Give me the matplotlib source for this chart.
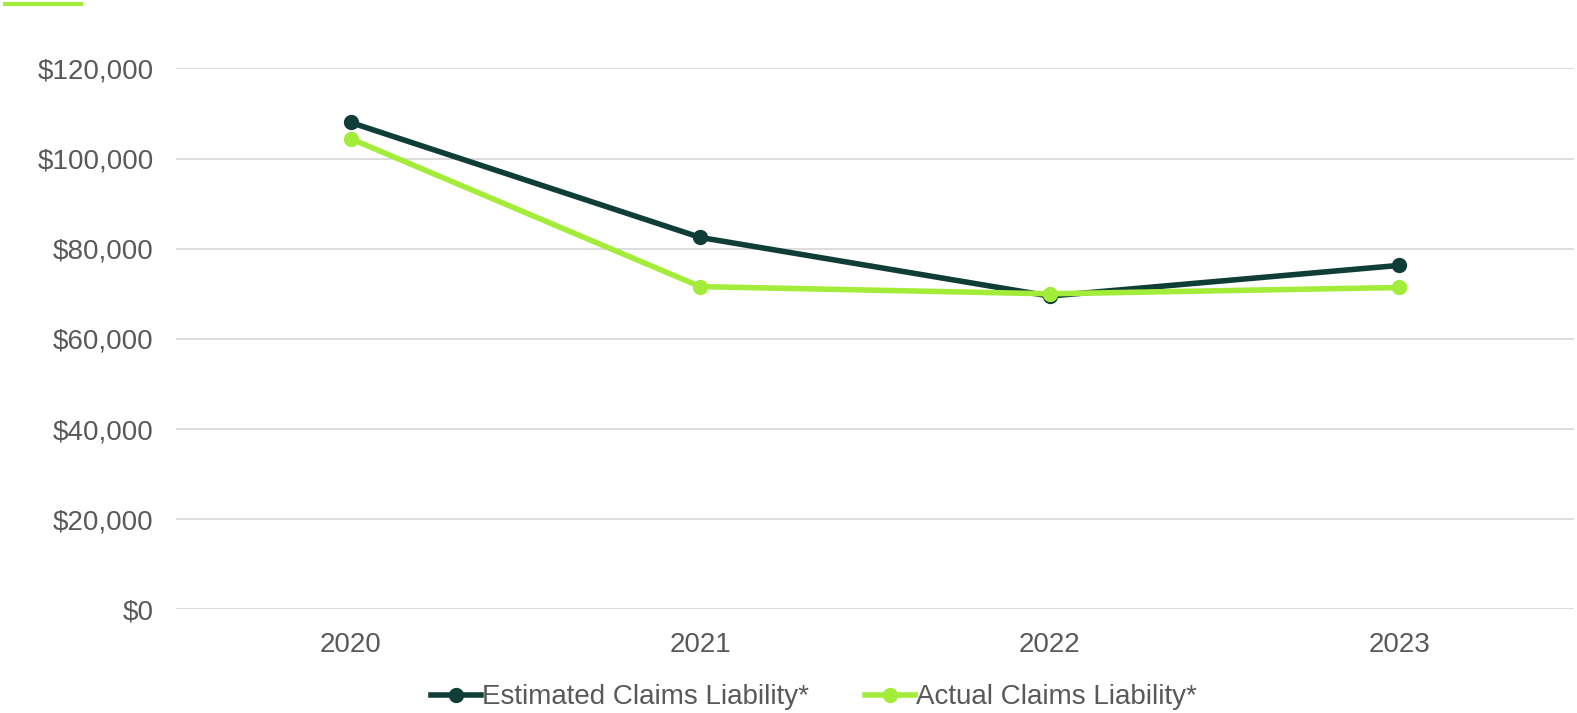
import matplotlib.pyplot as plt
from matplotlib.ticker import FuncFormatter

plt.rcParams['font.family'] = ['Liberation Sans', 'DejaVu Sans']

years = ['2020', '2021', '2022', '2023']
estimated = [108000, 82500, 69500, 76300]
actual = [104400, 71600, 70000, 71400]

DARK = '#0f3d38'
GREEN = '#a3ec3a'
GREY = '#595959'

fig = plt.figure(figsize=(15.77, 7.13), dpi=100)
ax = fig.add_axes([0.1116, 0.1453, 0.8864, 0.7588])

x = range(len(years))
ax.plot(x, estimated, color=DARK, lw=4, marker='o', ms=10, label='Estimated Claims Liability*', zorder=3)
ax.plot(x, actual, color=GREEN, lw=4, marker='o', ms=10, label='Actual Claims Liability*', zorder=4)

ax.set_xlim(-0.5, 3.5)
ax.set_ylim(0, 120000)
ax.set_yticks(range(0, 120001, 20000))
ax.yaxis.set_major_formatter(FuncFormatter(lambda v, p: f'${v:,.0f}'))
ax.set_xticks(list(x))
ax.set_xticklabels(years)
ax.tick_params(length=0, labelsize=20, labelcolor=GREY)
ax.tick_params(axis='x', pad=16.5)
ax.tick_params(axis='y', pad=16)
ax.grid(axis='y', color='#d9d9d9', lw=1.3)
ax.set_axisbelow(True)
for s in ax.spines.values():
    s.set_visible(False)

handles, labels = ax.get_legend_handles_labels()
leg = fig.legend(handles, labels, loc='center', bbox_to_anchor=(0.516, 0.022), ncol=2, frameon=False,
                 fontsize=20, handlelength=1.8, handletextpad=0.05, columnspacing=2.0)
for t in leg.get_texts():
    t.set_color(GREY)

# short accent line in the top-left corner
fig.add_artist(plt.Line2D([5 / 1577, 81 / 1577], [1 - 4 / 713, 1 - 4 / 713], color=GREEN, lw=3))

fig.savefig('out.png', dpi=100)
